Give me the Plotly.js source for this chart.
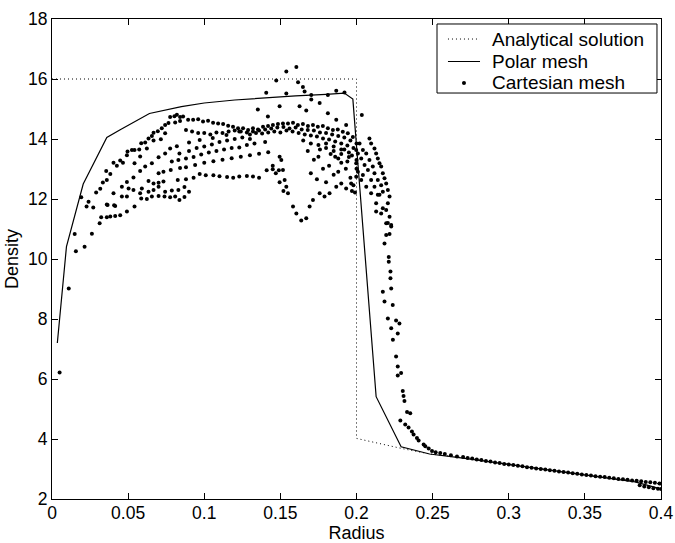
<!DOCTYPE html>
<html>
<head>
<meta charset="utf-8">
<script src="https://cdn.plot.ly/plotly-3.0.1.min.js"></script>
<style>html,body{margin:0;padding:0;background:#fff;}#chart{width:675px;height:543px;}</style>
</head>
<body>
<div id="chart"></div>
<script>
// Analytical solution (dotted)
var anaX = [0, 0.2, 0.2, 0.21, 0.22, 0.23, 0.24, 0.2484, 0.27, 0.3, 0.33, 0.36, 0.4];
var anaY = [16, 16, 4.02, 3.9, 3.79, 3.68, 3.58, 3.5, 3.38, 3.15, 2.94, 2.74, 2.5];

// Polar mesh (solid line)
var polarX = [0.0035, 0.0095, 0.0205, 0.036, 0.0445, 0.064, 0.085, 0.1, 0.12, 0.14, 0.16, 0.18, 0.192, 0.1976, 0.2129, 0.2293, 0.248, 0.27, 0.29, 0.31, 0.33, 0.35, 0.37, 0.383, 0.398];
var polarY = [7.2, 10.41, 12.5, 14.05, 14.3, 14.85, 15.08, 15.2, 15.3, 15.38, 15.44, 15.49, 15.53, 15.33, 5.41, 3.74, 3.5, 3.36, 3.22, 3.08, 2.95, 2.8, 2.66, 2.57, 2.36];

// Cartesian mesh (dots) - rising part, x < 0.09
var cartRiseX = [0.005, 0.011, 0.0149, 0.0157, 0.0214, 0.0262, 0.0192, 0.0227, 0.024, 0.0271, 0.029, 0.0317, 0.0334, 0.0313, 0.0323, 0.036, 0.0383, 0.0415, 0.0448, 0.0492, 0.0542, 0.0586, 0.0623, 0.0656, 0.07, 0.0739, 0.0776, 0.0809, 0.0837, 0.0365, 0.0415, 0.036, 0.0404, 0.0356, 0.0383, 0.0426, 0.0448, 0.0466, 0.0496, 0.0492, 0.0525, 0.0542, 0.0573, 0.0586, 0.0612, 0.0634, 0.0656, 0.0667, 0.0695, 0.0721, 0.0743, 0.0765, 0.0776, 0.0804, 0.082, 0.0841, 0.0841, 0.0809, 0.0743, 0.0715, 0.0667, 0.0623, 0.0579, 0.0542, 0.0535, 0.0579, 0.0612, 0.0656, 0.07, 0.0743, 0.0776, 0.082, 0.0837, 0.083, 0.0787, 0.078, 0.0732, 0.07, 0.0732, 0.07, 0.0667, 0.0634, 0.059, 0.0579, 0.0634, 0.0667, 0.07, 0.0743, 0.0787, 0.0826, 0.083, 0.0841, 0.0503, 0.0535, 0.0459, 0.0492, 0.0404, 0.0408, 0.036, 0.0492, 0.0459, 0.087, 0.09, 0.087];
var cartRiseY = [6.22, 9.02, 10.83, 10.26, 10.41, 10.84, 12.06, 11.75, 11.91, 11.72, 12.22, 12.34, 12.55, 11.19, 11.39, 11.39, 11.42, 11.43, 11.46, 11.58, 11.75, 12.02, 12.0, 12.08, 12.1, 12.08, 12.06, 12.08, 11.97, 11.8, 11.77, 12.63, 13.21, 12.93, 12.83, 13.11, 13.28, 13.21, 13.58, 13.46, 13.63, 13.63, 13.65, 13.86, 13.88, 14.02, 14.1, 14.21, 14.26, 14.36, 14.47, 14.53, 14.73, 14.76, 14.81, 14.73, 14.6, 14.55, 14.19, 13.99, 13.95, 13.68, 13.42, 13.19, 12.72, 12.93, 13.08, 13.19, 13.39, 13.52, 13.68, 13.76, 13.52, 13.3, 13.25, 12.97, 12.91, 12.86, 12.58, 12.54, 12.52, 12.6, 12.35, 12.19, 12.24, 12.3, 12.41, 12.24, 12.28, 12.63, 12.3, 13.03, 12.35, 12.3, 12.08, 12.08, 12.19, 11.79, 11.82, 12.57, 12.41, 12.4, 12.24, 12.07];

// Cartesian mesh - plateau, 0.085 < x < 0.2
var cartCoreX = [
 0.0861, 0.0894, 0.0927, 0.096, 0.0992, 0.1025, 0.1058, 0.1091, 0.1124, 0.1157, 0.1189, 0.1222, 0.1255, 0.1288, 0.132, 0.1353, 0.1386, 0.1419, 0.1451, 0.1484, 0.1517, 0.155, 0.1583, 0.1615, 0.1648, 0.1681, 0.1714, 0.1746, 0.1779, 0.1812, 0.1845, 0.1877, 0.191, 0.1943, 0.1976,
 0.088, 0.092, 0.096, 0.1, 0.104, 0.108, 0.112, 0.116, 0.12, 0.124, 0.128, 0.132, 0.136, 0.14, 0.144, 0.148, 0.152, 0.156, 0.16, 0.164, 0.168, 0.172, 0.176, 0.18, 0.184, 0.188, 0.192, 0.196, 0.2,
 0.09, 0.097, 0.1056, 0.1146, 0.123, 0.13, 0.134, 0.138, 0.142, 0.146, 0.15, 0.154, 0.158, 0.162, 0.166, 0.17, 0.174, 0.178, 0.182, 0.186, 0.19, 0.194, 0.198,
 0.09, 0.095, 0.1, 0.105, 0.11, 0.115, 0.12, 0.125, 0.13, 0.165, 0.17, 0.175, 0.18, 0.185, 0.19, 0.195, 0.2,
 0.088, 0.093, 0.098, 0.103, 0.108, 0.113, 0.118, 0.123, 0.128, 0.133, 0.14,
 0.088, 0.094, 0.1, 0.106, 0.112, 0.118, 0.124, 0.13, 0.136, 0.142,
 0.088, 0.093, 0.097, 0.101, 0.106, 0.11, 0.115, 0.119, 0.123, 0.128, 0.132, 0.136, 0.141, 0.145, 0.149,
 0.1495, 0.1506, 0.1517, 0.1528, 0.1539, 0.155, 0.1583, 0.1605, 0.1637, 0.167, 0.1692, 0.1714, 0.1758, 0.179, 0.1823, 0.1867, 0.19, 0.1932, 0.1965, 0.1998,
 0.145, 0.147, 0.1495, 0.152,
 0.168, 0.172, 0.175, 0.178, 0.182, 0.185, 0.188, 0.19, 0.193, 0.196, 0.198, 0.2, 0.174, 0.18, 0.17, 0.186, 0.192, 0.197, 0.199, 0.197,
 0.18, 0.185, 0.19, 0.195, 0.176, 0.183, 0.188, 0.194,
 0.1605, 0.1539, 0.1473, 0.1616, 0.1407, 0.1539, 0.1648, 0.1659, 0.1703, 0.1703, 0.1867, 0.1921, 0.1812, 0.1352, 0.1495, 0.1626, 0.167, 0.1758, 0.1812, 0.1867, 0.1932, 0.1418
];
var cartCoreY = [
 14.75, 14.64, 14.64, 14.66, 14.58, 14.61, 14.54, 14.52, 14.5, 14.44, 14.41, 14.36, 14.36, 14.3, 14.36, 14.32, 14.41, 14.43, 14.47, 14.5, 14.52, 14.52, 14.54, 14.47, 14.5, 14.43, 14.47, 14.41, 14.43, 14.36, 14.3, 14.32, 14.24, 14.19, 14.07,
 14.3, 14.25, 14.2, 14.2, 14.15, 14.22, 14.2, 14.25, 14.28, 14.25, 14.22, 14.25, 14.28, 14.32, 14.35, 14.38, 14.4, 14.35, 14.38, 14.32, 14.3, 14.28, 14.22, 14.2, 14.15, 14.1, 14.05, 13.95, 13.85,
 13.88, 13.97, 14.03, 14.13, 14.25, 14.15, 14.2, 14.18, 14.22, 14.25, 14.22, 14.28, 14.25, 14.2, 14.15, 14.12, 14.08, 14.02, 13.98, 13.92, 13.85, 13.78, 13.7,
 13.6, 13.7, 13.75, 13.82, 13.9, 13.95, 14.0, 14.05, 14.0, 13.95, 13.85, 13.8, 13.7, 13.6, 13.5, 13.4, 13.3,
 13.35, 13.4, 13.48, 13.55, 13.6, 13.65, 13.7, 13.72, 13.8, 13.85, 13.9,
 13.06, 13.13, 13.21, 13.26, 13.31, 13.36, 13.41, 13.46, 13.51, 13.56,
 12.66, 12.71, 12.83, 12.79, 12.79, 12.76, 12.73, 12.71, 12.75, 12.77, 12.75, 12.71, 12.96, 12.99, 12.96,
 13.41, 13.3, 12.97, 12.63, 12.41, 12.19, 11.75, 11.52, 11.28, 11.36, 11.75, 11.97, 12.19, 12.08, 12.19, 12.41, 12.52, 12.35, 12.52, 12.74,
 13.11, 12.86, 12.56, 12.27,
 13.6, 13.31, 13.41, 13.01, 13.11, 12.81, 12.91, 13.21, 13.01, 12.71, 12.46, 13.01, 12.66, 12.56, 12.86, 13.41, 13.65, 13.45, 12.22, 12.27,
 13.85, 13.75, 13.65, 13.55, 13.65, 13.5, 13.35, 13.25,
 16.4, 16.25, 15.95, 15.89, 15.54, 15.52, 15.73, 15.58, 15.47, 15.32, 15.61, 15.55, 15.47, 14.98, 15.09, 15.09, 14.95, 15.2, 14.86, 14.64, 14.47, 14.75
];

// Cartesian mesh - shock front, 0.2 < x < 0.27
var cartFrontX = [0.2035, 0.2085, 0.2096, 0.2118, 0.2129, 0.214, 0.2151, 0.2162, 0.2173, 0.2184, 0.2195, 0.2206, 0.2217, 0.2206, 0.2195, 0.2217, 0.2195, 0.2228, 0.2162, 0.2129, 0.214, 0.2118, 0.2096, 0.2075, 0.2053, 0.2031, 0.2009, 0.1998, 0.202, 0.2042, 0.2064, 0.2085, 0.2107, 0.2118, 0.214, 0.2162, 0.2173, 0.2096, 0.2064, 0.2042, 0.2031, 0.2009, 0.1998,
 0.2228, 0.2195, 0.2217, 0.2184, 0.2212, 0.2212, 0.2223, 0.2223, 0.2228, 0.2173, 0.2184, 0.2238, 0.2206, 0.2282, 0.226, 0.2228, 0.2271, 0.2239, 0.226, 0.2271, 0.2293, 0.2271, 0.2304, 0.2309, 0.2315, 0.2332, 0.2353,
 0.2288, 0.232, 0.2342, 0.2364, 0.2375, 0.2397, 0.2408, 0.2441, 0.2452, 0.2474, 0.2496, 0.252, 0.255, 0.258, 0.262, 0.266,
 0.2173, 0.2129, 0.2206, 0.2151];
var cartFrontY = [14.8, 14.02, 13.85, 13.68, 13.52, 13.35, 13.19, 13.08, 12.86, 12.69, 12.52, 12.3, 12.08, 11.86, 11.63, 11.41, 11.19, 11.13, 11.52, 11.86, 12.14, 12.41, 12.63, 12.97, 13.13, 13.35, 13.52, 13.63, 13.85, 13.63, 13.52, 13.3, 13.08, 12.86, 12.63, 12.46, 12.24, 12.19, 12.41, 12.8, 12.63, 12.91, 13.19,
 11.08, 10.8, 10.83, 10.52, 10.07, 9.91, 9.58, 9.36, 9.02, 8.91, 8.58, 8.47, 8.02, 7.85, 7.95, 7.69, 7.52, 7.31, 6.75, 6.42, 6.2, 6.12, 5.6, 5.43, 5.27, 4.9, 4.86,
 4.62, 4.48, 4.38, 4.25, 4.15, 4.03, 3.95, 3.82, 3.76, 3.68, 3.6, 3.56, 3.53, 3.5, 3.46, 3.42,
 11.69, 11.58, 11.2, 12.14];

// Cartesian mesh - tail, x > 0.27
var cartTailX = [0.27, 0.273, 0.276, 0.279, 0.282, 0.285, 0.288, 0.291, 0.294, 0.297, 0.3, 0.303, 0.306, 0.309, 0.312, 0.315, 0.318, 0.321, 0.324, 0.327, 0.33, 0.333, 0.336, 0.339, 0.342, 0.345, 0.348, 0.351, 0.354, 0.357, 0.36, 0.363, 0.366, 0.369, 0.372, 0.375, 0.378, 0.381, 0.384, 0.387, 0.39, 0.393, 0.396, 0.399, 0.386, 0.389, 0.392, 0.395, 0.398, 0.4];
var cartTailY = [3.4, 3.37, 3.35, 3.32, 3.3, 3.27, 3.25, 3.22, 3.2, 3.17, 3.15, 3.13, 3.11, 3.09, 3.06, 3.04, 3.02, 3.0, 2.98, 2.96, 2.94, 2.92, 2.9, 2.88, 2.86, 2.84, 2.82, 2.8, 2.78, 2.76, 2.74, 2.73, 2.71, 2.69, 2.67, 2.66, 2.64, 2.62, 2.61, 2.59, 2.57, 2.56, 2.54, 2.52, 2.46, 2.42, 2.39, 2.36, 2.34, 2.33];

var cartX = cartRiseX.concat(cartCoreX, cartFrontX, cartTailX);
var cartY = cartRiseY.concat(cartCoreY, cartFrontY, cartTailY);

var xTicks = [0, 0.05, 0.1, 0.15, 0.2, 0.25, 0.3, 0.35, 0.4];
var xTickText = ['0', '0.05', '0.1', '0.15', '0.2', '0.25', '0.3', '0.35', '0.4'];
var yTicks = [2, 4, 6, 8, 10, 12, 14, 16, 18];
var legendNames = ['Analytical solution', 'Polar mesh', 'Cartesian mesh'];

var FONT = 'Liberation Sans, Arial, Helvetica, sans-serif';

var traces = [
  {x: anaX, y: anaY, type: 'scatter', mode: 'lines', name: legendNames[0],
   line: {color: '#000', width: 1, dash: '1px,3px'}},
  {x: polarX, y: polarY, type: 'scatter', mode: 'lines', name: legendNames[1],
   line: {color: '#000', width: 1.2}},
  {x: cartX, y: cartY, type: 'scatter', mode: 'markers', name: legendNames[2],
   marker: {color: '#000', size: 4}}
];

var axisCommon = {
  showgrid: false, zeroline: false, showline: true, linecolor: '#000', linewidth: 1,
  mirror: 'ticks', ticks: 'inside', ticklen: 6, tickcolor: '#000', tickwidth: 1,
  tickfont: {family: FONT, size: 17.5, color: '#000'}
};

// Legend box drawn in paper coordinates (MATLAB-style boxed legend)
var LX0 = 0.6322, LX1 = 0.9934, LY0 = 0.8458, LY1 = 0.9896;
var rowY = [0.9583, 0.9115, 0.8667];
var symX0 = 0.6502, symX1 = 0.7028, symXc = 0.6765, textX = 0.7209;

var shapes = [
  {type: 'rect', xref: 'paper', yref: 'paper', x0: LX0, x1: LX1, y0: LY0, y1: LY1,
   line: {color: '#000', width: 1}, fillcolor: '#fff', layer: 'above'},
  {type: 'line', xref: 'paper', yref: 'paper', x0: symX0, x1: symX1, y0: rowY[0], y1: rowY[0],
   line: {color: '#000', width: 1, dash: '1px,3px'}, layer: 'above'},
  {type: 'line', xref: 'paper', yref: 'paper', x0: symX0, x1: symX1, y0: rowY[1], y1: rowY[1],
   line: {color: '#000', width: 1.2}, layer: 'above'},
  {type: 'circle', xref: 'paper', yref: 'paper', x0: symXc - 0.0033, x1: symXc + 0.0033,
   y0: rowY[2] - 0.0042, y1: rowY[2] + 0.0042,
   line: {color: '#000', width: 0}, fillcolor: '#000', layer: 'above'}
];

var annotations = legendNames.map(function (n, i) {
  return {xref: 'paper', yref: 'paper', x: textX, y: rowY[i], xanchor: 'left', yanchor: 'middle',
    text: n, showarrow: false, font: {family: FONT, size: 19, color: '#000'}, borderpad: 0};
});

var layout = {
  width: 675, height: 543,
  margin: {l: 52, r: 14, t: 19, b: 44},
  paper_bgcolor: '#fff', plot_bgcolor: '#fff',
  font: {family: FONT, size: 18, color: '#000'},
  showlegend: false,
  shapes: shapes,
  annotations: annotations,
  xaxis: Object.assign({}, axisCommon, {
    range: [0, 0.4], tickvals: xTicks, ticktext: xTickText, ticklabelstandoff: -2,
    title: {text: 'Radius', font: {family: FONT, size: 18, color: '#000'}, standoff: 4}
  }),
  yaxis: Object.assign({}, axisCommon, {
    range: [2, 18], tickvals: yTicks,
    title: {text: 'Density', font: {family: FONT, size: 18, color: '#000'}, standoff: 4}
  })
};

Plotly.newPlot('chart', traces, layout, {staticPlot: true, displayModeBar: false});
</script>
</body>
</html>
